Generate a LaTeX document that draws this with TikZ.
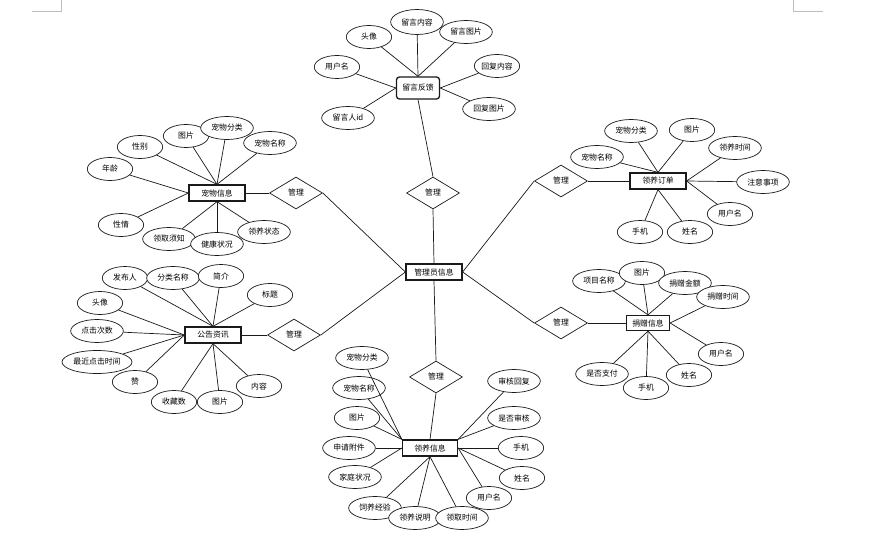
\documentclass[tikz,border=0pt]{standalone}
\usepackage{fontspec}
\setmainfont{Noto Sans CJK SC}
\usetikzlibrary{shapes.geometric}
\definecolor{InkDark}{HTML}{1A1A1A}
\definecolor{CropGray}{HTML}{BDBDBD}
\newcommand{\erfont}{\fontsize{6.7}{8}\selectfont}
\tikzset{
  ent/.style={rectangle, draw=InkDark, line width=1.1pt, fill=white,
              minimum width=1.68cm, minimum height=0.48cm, inner sep=0pt, font=\erfont},
  entr/.style={ent, rounded corners=2.5pt, minimum width=1.29cm, minimum height=0.66cm},
  rel/.style={diamond, draw=InkDark, line width=0.6pt, fill=white,
              minimum width=1.59cm, minimum height=0.96cm, inner sep=0pt, font=\erfont},
  attr/.style={ellipse, draw=InkDark, line width=0.6pt, fill=white,
               minimum width=1.36cm, minimum height=0.69cm, inner sep=0pt, font=\erfont},
  attrw/.style={attr, minimum width=1.58cm},
  link/.style={line width=0.6pt, draw=InkDark},
  cropline/.style={line width=0.5pt, draw=CropGray},
}

\begin{document}
\begin{tikzpicture}[x=0.03cm, y=-0.03cm]
\fill[white] (0,0) rectangle (884,534);
\useasboundingbox (0,0) rectangle (884,534);
\draw[cropline] (32,11) -- (61,11) -- (61,0);
\draw[cropline] (793,0) -- (793,11) -- (823,11);
% ---------------------------------------------------------------- centre and relations
\node[ent] (admin) at (434,272) {管理员信息};
\node[rel] (rFb) at (433,193) {管理};
\node[rel] (rPet) at (296,193) {管理};
\node[rel] (rNotice) at (294,335) {管理};
\node[rel] (rOrder) at (561,181) {管理};
\node[rel] (rDonate) at (561,323) {管理};
\node[rel] (rAdopt) at (436,377) {管理};
% ---------------------------------------------------------------- entities
\node[entr] (feedback) at (418,88) {留言反馈};
\node[ent] (pet) at (217,193) {宠物信息};
\node[ent] (order) at (658,181) {领养订单};
\node[ent] (notice) at (213,335) {公告资讯};
\node[ent, minimum width=1.29cm, minimum height=0.45cm] (donate) at (648,323) {捐赠信息};
\node[ent, minimum width=1.65cm] (adopt) at (430,448) {领养信息};
% ---------------------------------------------------------------- feedback
\node[attr] (fbTx) at (369,37) {头像};
\node[attrw, minimum height=0.75cm] (fbNr) at (417,22) {留言内容};
\node[attrw] (fbPic) at (466,32) {留言图片};
\node[attr] (fbUser) at (337,67) {用户名};
\node[attr] (fbRe) at (497,66) {回复内容};
\node[attrw] (fbRePic) at (489,109) {回复图片};
\node[attrw] (fbUid) at (348,118) {留言人id};
% ---------------------------------------------------------------- pet
\node[attr] (petSex) at (140,147) {性别};
\node[attr] (petPic) at (186,136) {图片};
\node[attrw] (petCat) at (227,128) {宠物分类};
\node[attrw] (petName) at (270,143) {宠物名称};
\node[attr] (petAge) at (110,169) {年龄};
\node[attr] (petChar) at (121,225) {性情};
\node[attrw] (petNote) at (169,239) {领取须知};
\node[attrw] (petHealth) at (217,244) {健康状况};
\node[attrw] (petState) at (264,232) {领养状态};
% ---------------------------------------------------------------- order
\node[attrw] (ordCat) at (631,131) {宠物分类};
\node[attr] (ordPic) at (692,130) {图片};
\node[attrw] (ordName) at (597,157) {宠物名称};
\node[attrw] (ordTime) at (735,148) {领养时间};
\node[attrw] (ordNote) at (763,182) {注意事项};
\node[attr] (ordUser) at (730,214) {用户名};
\node[attr] (ordTel) at (640,232) {手机};
\node[attr] (ordReal) at (690,232) {姓名};
% ---------------------------------------------------------------- notice
\node[attr] (ntPub) at (125,278) {发布人};
\node[attrw] (ntCat) at (173,278) {分类名称};
\node[attr] (ntIntro) at (221,276) {简介};
\node[attr] (ntTitle) at (270,295) {标题};
\node[attr] (ntTx) at (100,303) {头像};
\node[attrw] (ntClick) at (97,331) {点击次数};
\node[attr, minimum width=2.1cm] (ntLast) at (97,362) {最近点击时间};
\node[attr] (ntZan) at (135,382) {赞};
\node[attr] (ntFav) at (174,402) {收藏数};
\node[attr] (ntPic) at (220,402) {图片};
\node[attr] (ntBody) at (259,386) {内容};
% ---------------------------------------------------------------- donate
\node[attrw] (dnProj) at (599,281) {项目名称};
\node[attr] (dnPic) at (642,273) {图片};
\node[attrw] (dnAmt) at (685,283) {捐赠金额};
\node[attrw] (dnTime) at (723,297) {捐赠时间};
\node[attr] (dnUser) at (721,354) {用户名};
\node[attr] (dnReal) at (689,375) {姓名};
\node[attr] (dnTel) at (646,388) {手机};
\node[attrw] (dnPaid) at (602,374) {是否支付};
% ---------------------------------------------------------------- adopt
\node[attrw] (adCat) at (362,358) {宠物分类};
\node[attrw] (adName) at (359,388) {宠物名称};
\node[attr] (adPic) at (357,418) {图片};
\node[attrw] (adFile) at (349,448) {申请附件};
\node[attrw] (adHome) at (355,477) {家庭状况};
\node[attrw] (adExp) at (375,508) {饲养经验};
\node[attrw] (adDesc) at (415,518) {领养说明};
\node[attrw] (adTime) at (462,518) {领取时间};
\node[attr] (adUser) at (489,498) {用户名};
\node[attr] (adReal) at (522,478) {姓名};
\node[attr] (adTel) at (521,448) {手机};
\node[attrw] (adChk) at (514,418) {是否审核};
\node[attrw] (adReply) at (514,381) {审核回复};
% ---------------------------------------------------------------- links
\draw[link] (admin.north) -- (rFb.south);
\draw[link] (rFb.north) -- (feedback.south);
\draw[link] (admin.west) -- (rPet.east);
\draw[link] (rPet.west) -- (pet.east);
\draw[link] (admin.west) -- (rNotice.east);
\draw[link] (rNotice.west) -- (notice.east);
\draw[link] (admin.east) -- (rOrder.west);
\draw[link] (rOrder.east) -- (order.west);
\draw[link] (admin.east) -- (rDonate.west);
\draw[link] (rDonate.east) -- (donate.west);
\draw[link] (admin.south) -- (rAdopt.north);
\draw[link] (rAdopt.south) -- (adopt.north);
\foreach \a in {fbTx,fbNr,fbPic} {\draw[link] (feedback.north) -- (\a);}
\foreach \a in {fbUser,fbUid} {\draw[link] (feedback.west) -- (\a);}
\foreach \a in {fbRe,fbRePic} {\draw[link] (feedback.east) -- (\a);}
\foreach \a in {petSex,petPic,petCat,petName} {\draw[link] (pet.north) -- (\a);}
\foreach \a in {petAge,petChar} {\draw[link] (pet.west) -- (\a);}
\foreach \a in {petNote,petHealth,petState} {\draw[link] (pet.south) -- (\a);}
\foreach \a in {ordCat,ordPic,ordName} {\draw[link] (order.north) -- (\a);}
\foreach \a in {ordTime,ordNote,ordUser} {\draw[link] (order.east) -- (\a);}
\foreach \a in {ordTel,ordReal} {\draw[link] (order.south) -- (\a);}
\foreach \a in {ntPub,ntCat,ntIntro,ntTitle} {\draw[link] (notice.north) -- (\a);}
\foreach \a in {ntTx,ntClick,ntLast,ntZan} {\draw[link] (notice.west) -- (\a);}
\foreach \a in {ntFav,ntPic,ntBody} {\draw[link] (notice.south) -- (\a);}
\foreach \a in {dnProj,dnPic,dnAmt} {\draw[link] (donate.north) -- (\a);}
\foreach \a in {dnTime,dnUser} {\draw[link] (donate.east) -- (\a);}
\foreach \a in {dnReal,dnTel,dnPaid} {\draw[link] (donate.south) -- (\a);}
\foreach \a in {adCat,adName,adPic} {\draw[link] (adopt.north west) -- (\a);}
\foreach \a in {adFile,adHome} {\draw[link] (adopt.west) -- (\a);}
\foreach \a in {adExp,adDesc,adTime} {\draw[link] (adopt.south) -- (\a);}
\foreach \a in {adUser,adReal,adTel} {\draw[link] (adopt.east) -- (\a);}
\foreach \a in {adChk,adReply} {\draw[link] (adopt.north east) -- (\a);}
\end{tikzpicture}
\end{document}
